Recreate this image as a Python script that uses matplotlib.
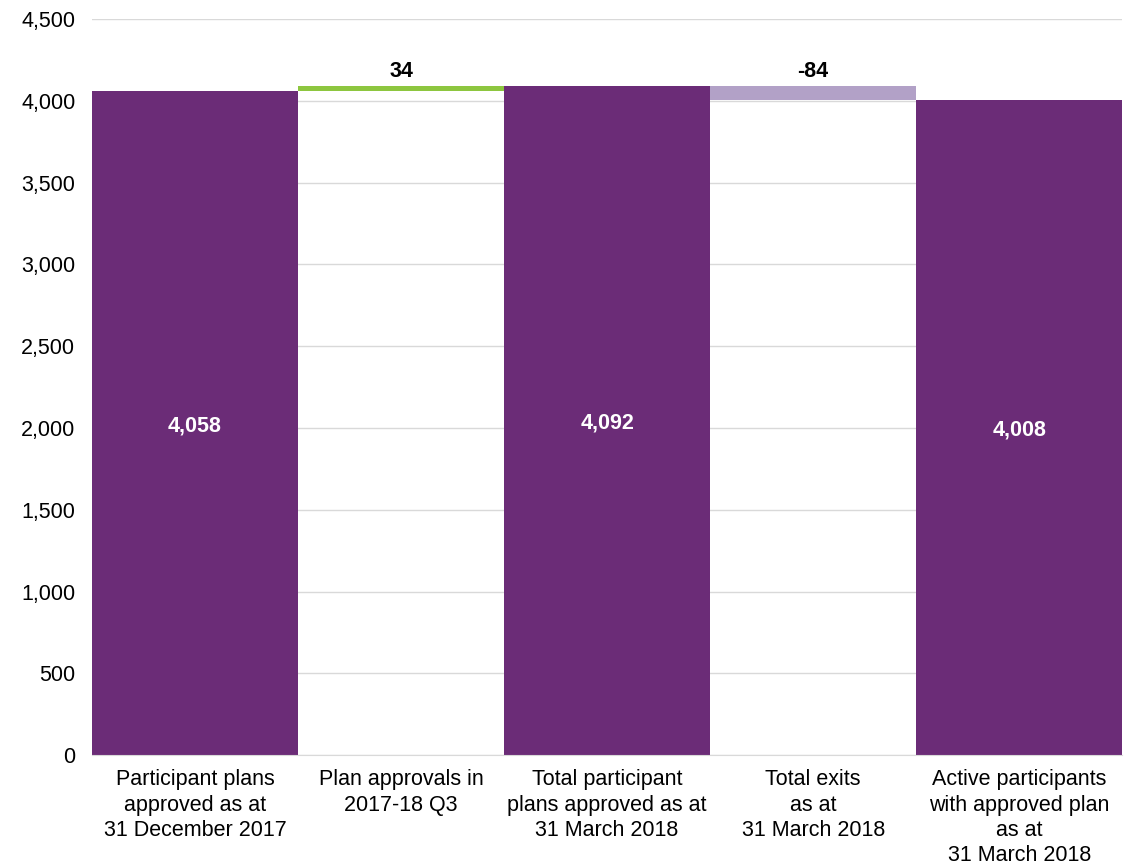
import matplotlib.pyplot as plt

plt.rcParams['font.family'] = ['Liberation Sans', 'DejaVu Sans']

categories = ['Participant plans\napproved as at\n31 December 2017',
              'Plan approvals in\n2017-18 Q3',
              'Total participant\nplans approved as at\n31 March 2018',
              'Total exits\nas at\n31 March 2018',
              'Active participants\nwith approved plan\nas at\n31 March 2018']
totals = [4058, None, 4092, None, 4008]
changes = [None, 34, None, -84, None]

purple = '#6B2C77'
green = '#8DC63F'
lilac = '#B2A1C7'
fs = 15.5

fig = plt.figure(figsize=(11.29, 8.66), dpi=100)
ax = fig.add_axes([0.0815, 0.128, 0.9125, 0.85])

running = 0
for i, cat in enumerate(categories):
    if totals[i] is not None:
        ax.bar(i, totals[i], width=1.0, color=purple, zorder=2)
        ax.text(i, totals[i] / 2 - 15, f'{totals[i]:,}', ha='center', va='center',
                color='white', fontsize=fs, fontweight='bold', zorder=3)
        running = totals[i]
    else:
        d = changes[i]
        if d >= 0:
            bottom, col = running, green
            top = running + d
        else:
            bottom, col = running + d, lilac
            top = running
        ax.bar(i, abs(d), bottom=bottom, width=1.0, color=col, zorder=2)
        ax.text(i, top + 85, f'{d:,}', ha='center', va='center',
                color='black', fontsize=fs, fontweight='bold', zorder=3)
        running = running + d

ax.set_xlim(-0.5, 4.5)
ax.set_ylim(0, 4500)
ax.set_yticks(range(0, 4501, 500))
ax.set_yticklabels([f'{v:,}' for v in range(0, 4501, 500)])
ax.set_xticks(range(len(categories)))
ax.set_xticklabels(categories, linespacing=1.28)
ax.grid(axis='y', color='#D9D9D9', lw=1, zorder=0)
ax.tick_params(axis='both', length=0, labelsize=fs, colors='black')
ax.tick_params(axis='y', pad=12)
ax.tick_params(axis='x', pad=10)
for s in ['top', 'right', 'left']:
    ax.spines[s].set_visible(False)
ax.spines['bottom'].set_color('#D9D9D9')

plt.savefig('out.png', dpi=100)
